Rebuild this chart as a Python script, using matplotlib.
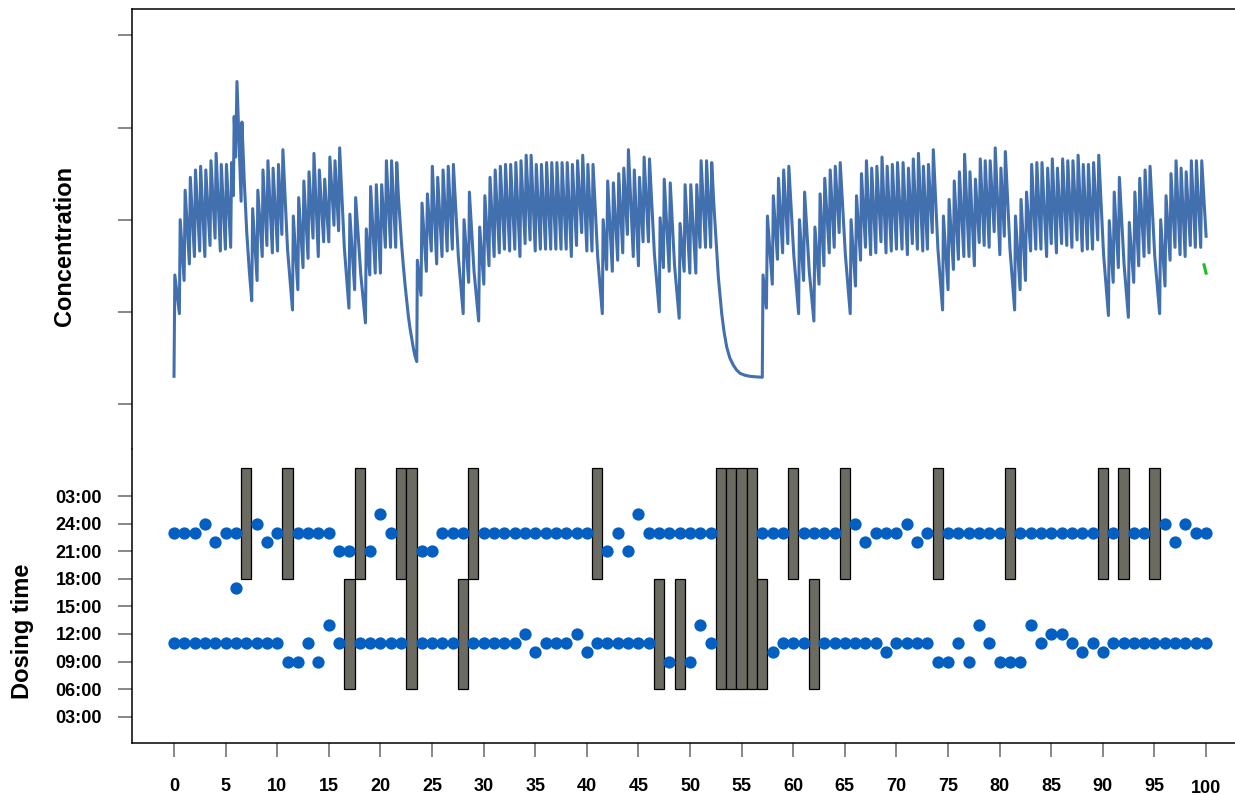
import numpy as np
import matplotlib.pyplot as plt
import matplotlib.transforms as mtransforms

plt.rcParams['font.family'] = ['Liberation Sans', 'DejaVu Sans']
plt.rcParams['font.weight'] = 'bold'

# dosing record: clock hour of the morning / evening dose per day (None = missed)
days = list(range(101))
morning_hour = [
    11, 11, 11, 11, 11, 11, 11, 11, 11, 11,
    11, 9, 9, 11, 9, 13, 11, None, 11, 11,
    11, 11, 11, None, 11, 11, 11, 11, None, 11,
    11, 11, 11, 11, 12, 10, 11, 11, 11, 12,
    10, 11, 11, 11, 11, 11, 11, None, 9, None,
    9, 13, 11, None, None, None, None, None, 10, 11,
    11, 11, None, 11, 11, 11, 11, 11, 11, 10,
    11, 11, 11, 11, 9, 9, 11, 9, 13, 11,
    9, 9, 9, 13, 11, 12, 12, 11, 10, 11,
    10, 11, 11, 11, 11, 11, 11, 11, 11, 11,
    11,
]
evening_hour = [
    23, 23, 23, 24, 22, 23, 23, None, 24, 22,
    23, None, 23, 23, 23, 23, 21, 21, None, 21,
    25, 23, None, None, 21, 21, 23, 23, 23, None,
    23, 23, 23, 23, 23, 23, 23, 23, 23, 23,
    23, None, 21, 23, 21, 25, 23, 23, 23, 23,
    23, 23, 23, None, None, None, None, 23, 23, 23,
    None, 23, 23, 23, 23, None, 24, 22, 23, 23,
    23, 24, 22, 23, None, 23, 23, 23, 23, 23,
    23, None, 23, 23, 23, 23, 23, 23, 23, 23,
    None, 23, None, 23, 23, None, 24, 22, 24, 23,
    23,
]
extra_day = [6]
extra_hour = [17]

# dosing windows used to flag missed doses
morning_window = (6, 18)
evening_window = (18, 30)

# simulated concentration (time in days, level)
conc_days_0_34 = [
    (0.0, 1.5), (0.08, 7.0), (0.52, 4.9), (0.6, 10.0), (0.98, 6.7), (1.08, 11.6),
    (1.49, 7.6), (1.58, 12.3), (1.98, 8.0), (2.08, 12.7), (2.49, 8.3), (2.58, 12.9),
    (2.99, 8.0), (3.08, 12.7), (3.49, 8.6), (3.58, 13.2), (3.98, 9.0), (4.08, 13.6),
    (4.49, 8.3), (4.58, 13.0), (4.98, 8.4), (5.08, 13.0), (5.49, 8.5), (5.58, 13.1),
    (5.75, 11.3), (5.83, 15.6), (5.97, 13.4), (6.1, 17.5), (6.5, 11.0), (6.58, 15.3),
    (6.8, 12.2), (7.05, 9.3), (7.3, 7.2), (7.53, 5.6), (7.62, 10.6), (8.05, 6.7),
    (8.12, 11.6), (8.55, 8.0),
    (8.62, 12.7), (9.0, 8.6), (9.1, 13.2), (9.53, 8.2), (9.6, 12.8), (10.03, 8.3),
    (10.12, 13.0), (10.45, 9.2), (10.55, 13.8), (11.0, 8.4), (11.48, 5.1), (11.56, 10.2),
    (12.0, 6.2), (12.08, 11.2), (12.5, 7.4), (12.58, 12.1), (12.99, 7.9), (13.08, 12.6),
    (13.47, 9.0), (13.56, 13.6), (13.98, 8.0), (14.08, 12.7), (14.5, 8.8), (14.6, 12.2),
    (15.0, 8.8), (15.1, 13.4), (15.5, 9.7), (15.6, 13.2), (15.95, 9.4), (16.05, 13.9),
    (16.5, 8.5), (16.95, 5.2), (17.04, 10.3), (17.5, 6.2), (17.6, 11.2), (18.1, 7.0),
    (18.55, 4.4), (18.63, 9.5), (18.97, 7.0), (19.05, 11.8), (19.5, 7.1), (19.6, 11.9),
    (20.0, 7.1), (20.12, 11.9), (20.48, 8.5), (20.58, 13.2), (20.98, 8.5), (21.08, 13.2),
    (21.48, 8.5), (21.58, 13.1), (21.75, 11.2), (21.9, 9.9), (22.06, 8.6), (22.22, 7.5),
    (22.4, 6.4), (22.55, 5.6), (22.7, 4.8), (22.87, 4.1), (23.05, 3.5), (23.2, 3.0),
    (23.35, 2.6), (23.52, 2.3), (23.58, 7.8), (23.93, 5.9), (24.03, 10.9), (24.45, 7.2),
    (24.55, 11.4), (24.93, 8.3), (25.03, 12.9), (25.45, 7.6), (25.55, 12.3), (25.97, 8.0),
    (26.07, 12.7), (26.47, 8.3), (26.57, 12.9), (26.97, 8.4), (27.07, 13.0), (27.55, 8.0),
    (28.02, 4.9), (28.1, 10.0), (28.55, 6.6), (28.62, 11.5), (29.07, 7.2), (29.52, 4.5),
    (29.62, 9.6), (30.02, 6.5), (30.12, 11.3), (30.52, 7.5), (30.62, 12.3), (31.02, 8.0),
    (31.12, 12.7), (31.52, 8.2), (31.62, 12.9), (32.02, 8.4), (32.12, 13.0), (32.52, 8.3),
    (32.62, 13.0), (33.02, 8.4), (33.12, 13.1), (33.52, 8.0), (33.62, 13.2), (34.02, 8.7),
    (34.12, 13.5),
]
conc_days_34_70 = [
    (34.5, 8.9), (34.6, 13.5), (35.0, 8.3), (35.1, 13.0), (35.5, 8.4), (35.6, 13.0),
    (36.0, 8.4), (36.1, 13.1), (36.5, 8.4), (36.6, 13.1), (37.0, 8.4), (37.1, 13.1),
    (37.5, 8.4), (37.6, 13.1), (38.0, 8.4), (38.1, 13.1), (38.5, 8.0), (38.6, 13.0),
    (39.0, 8.6), (39.1, 13.2), (39.5, 9.3), (39.6, 13.5), (40.0, 8.3), (40.1, 13.0),
    (40.5, 8.3), (40.6, 13.0), (41.05, 8.0), (41.5, 4.9), (41.58, 10.0), (41.92, 7.3),
    (42.02, 12.1), (42.47, 7.2), (42.57, 12.0), (42.99, 7.8), (43.09, 12.5), (43.48, 8.2),
    (43.58, 12.8), (43.93, 9.2), (44.03, 13.8), (44.5, 8.0), (44.6, 12.7), (45.0, 7.5),
    (45.1, 12.3), (45.45, 8.8), (45.55, 13.4), (45.97, 8.8), (46.07, 13.3), (46.55, 8.1),
    (47.02, 5.0), (47.1, 10.1), (47.42, 7.4), (47.5, 12.2), (47.98, 7.2), (48.08, 12.0),
    (48.5, 7.5), (48.95, 4.65), (49.03, 9.8), (49.43, 7.2), (49.52, 11.9), (49.98, 7.1),
    (50.07, 11.9), (50.56, 7.1), (50.65, 11.9), (50.97, 8.5), (51.07, 13.2), (51.5, 8.5),
    (51.6, 13.2), (52.0, 8.5), (52.1, 13.1), (52.3, 10.9), (52.5, 9.1), (52.74, 6.9),
    (52.9, 5.9), (53.07, 4.9), (53.3, 3.9), (53.55, 3.1), (53.85, 2.5), (54.2, 2.1),
    (54.5, 1.85), (54.85, 1.66), (55.3, 1.56), (55.8, 1.5), (56.4, 1.47), (57.0, 1.45),
    (57.07, 7.0), (57.4, 5.2),
    (57.5, 10.2), (57.97, 6.5), (58.07, 11.3), (58.47, 7.85), (58.57, 12.25), (58.97, 8.2),
    (59.07, 12.7), (59.47, 8.7), (59.57, 12.9), (60.05, 8.1), (60.52, 4.9), (60.6, 10.0),
    (61.0, 6.7), (61.1, 11.5), (61.55, 7.2), (62.0, 4.5), (62.1, 9.6), (62.5, 6.5),
    (62.6, 11.4), (62.97, 7.5), (63.05, 12.25), (63.49, 8.2), (63.58, 12.7), (63.97, 8.5),
    (64.07, 12.9), (64.45, 9.3), (64.55, 13.1), (65.05, 8.1), (65.52, 4.9), (65.6, 10.0),
    (66.03, 6.4), (66.13, 11.3), (66.52, 7.8), (66.61, 12.5), (67.0, 8.5), (67.09, 13.2),
    (67.5, 8.1), (67.6, 12.8), (68.0, 8.2), (68.1, 12.9), (68.5, 8.8), (68.6, 13.4),
    (68.99, 8.2), (69.1, 12.9), (69.5, 8.3), (69.6, 13.0), (70.0, 8.4), (70.1, 13.1),
]
conc_days_70_100 = [
    (70.54, 8.4), (70.64, 13.1), (71.06, 8.1), (71.16, 12.8), (71.54, 8.7), (71.63, 13.3),
    (72.03, 8.4), (72.13, 13.6), (72.55, 8.3), (72.61, 12.9), (73.0, 8.4), (73.1, 13.0),
    (73.47, 9.3), (73.57, 13.8), (74.02, 8.4), (74.47, 5.1), (74.55, 10.2), (75.0, 6.2),
    (75.1, 11.1), (75.52, 7.3), (75.6, 12.1), (76.0, 7.85), (76.1, 12.6), (76.53, 8.0),
    (76.6, 13.55), (77.03, 8.0), (77.12, 12.6), (77.55, 7.5), (77.65, 12.2), (78.02, 8.76),
    (78.12, 13.3), (78.5, 8.6), (78.6, 13.2), (78.98, 8.5), (79.08, 13.2), (79.47, 9.35),
    (79.57, 13.9), (80.02, 8.1), (80.12, 12.8), (80.45, 9.1), (80.55, 13.7), (81.0, 8.4),
    (81.45, 5.1), (81.53, 10.2), (81.98, 6.2), (82.07, 11.1), (82.5, 6.7), (82.6, 11.5),
    (83.0, 8.3), (83.1, 13.0), (83.5, 8.4), (83.6, 13.1), (84.0, 8.4), (84.1, 13.1),
    (84.55, 8.0), (84.65, 12.8), (85.0, 8.7), (85.1, 13.3), (85.5, 8.2), (85.6, 12.8),
    (86.0, 8.7), (86.1, 13.3), (86.5, 8.6), (86.6, 13.2), (87.0, 8.5), (87.1, 13.2),
    (87.5, 8.9), (87.6, 13.5), (88.0, 8.3), (88.1, 13.0), (88.5, 8.4), (88.6, 13.0),
    (89.0, 8.4), (89.1, 13.1), (89.5, 8.9), (89.6, 13.5), (90.07, 8.1), (90.54, 4.8),
    (90.62, 9.95), (91.0, 6.6), (91.1, 11.5), (91.5, 7.4), (91.6, 12.3), (92.05, 7.6),
    (92.47, 4.7), (92.56, 9.85), (92.99, 6.6), (93.1, 11.5), (93.47, 7.5), (93.57, 12.25),
    (93.99, 8.0), (94.09, 12.7), (94.47, 8.2), (94.57, 12.9), (95.03, 8.0), (95.5, 4.9),
    (95.6, 10.0), (96.02, 6.4), (96.12, 11.3), (96.51, 7.8), (96.6, 12.5), (96.99, 8.5),
    (97.09, 13.2), (97.48, 8.1), (97.58, 12.8), (97.97, 8.0), (98.07, 12.6), (98.47, 8.6),
    (98.57, 13.2), (98.96, 8.5), (99.06, 13.2), (99.48, 8.5), (99.58, 13.2), (100.0, 9.1),
]
conc_forecast = [(99.8, 7.55), (100.0, 7.1)]

conc = np.array(conc_days_0_34 + conc_days_34_70 + conc_days_70_100)
forecast = np.array(conc_forecast)

fig = plt.figure(figsize=(12.35, 7.95), dpi=100)
ax_c = fig.add_axes([0.10688, 0.4351, 0.8972, 0.5537])
ax_d = fig.add_axes([0.10688, 0.0650, 0.8972, 0.3701])

# --- concentration panel ---
ax_c.plot(conc[:, 0], conc[:, 1], color='#4270AE', lw=2.2)
ax_c.plot(forecast[:, 0], forecast[:, 1], color='#1DBE1D', lw=2.2)
ax_c.set_xlim(-4.07, 103.29)
ax_c.set_ylim(-2.45, 21.44)
ax_c.set_yticks([0, 5, 10, 15, 20])
ax_c.tick_params(axis='y', labelleft=False, length=10, width=1.1, color='#666666')
ax_c.tick_params(axis='x', bottom=False, labelbottom=False)
for s in ['right', 'bottom']:
    ax_c.spines[s].set_visible(False)
for s in ['left', 'top']:
    ax_c.spines[s].set_linewidth(1.1)

# --- dosing panel ---
dot_x, dot_y = [], []
miss_x, miss_lo, miss_hi = [], [], []
for d, m, e in zip(days, morning_hour, evening_hour):
    if m is not None:
        dot_x.append(d)
        dot_y.append(m)
    if e is not None:
        dot_x.append(d)
        dot_y.append(e)
    if m is None and e is None:
        miss_x.append(d)
        miss_lo.append(morning_window[0])
        miss_hi.append(evening_window[1])
    elif m is None:
        miss_x.append(d)
        miss_lo.append(morning_window[0])
        miss_hi.append(morning_window[1])
    elif e is None:
        miss_x.append(d)
        miss_lo.append(evening_window[0])
        miss_hi.append(evening_window[1])
dot_x += extra_day
dot_y += extra_hour

miss_lo = np.array(miss_lo)
miss_hi = np.array(miss_hi)
ax_d.bar(miss_x, miss_hi - miss_lo, bottom=miss_lo, width=1.0,
         color='#6B6B62', edgecolor='black', linewidth=0.9, zorder=2)
ax_d.scatter(dot_x, dot_y, s=78, color='#045FC2', linewidths=0, zorder=3)

ax_d.set_xlim(-4.07, 103.29)
ax_d.set_ylim(0.107, 32.107)
ax_d.set_xticks(range(0, 101, 5))
ax_d.set_yticks(range(3, 28, 3))
ax_d.set_yticklabels(['03:00', '06:00', '09:00', '12:00', '15:00',
                      '18:00', '21:00', '24:00', '03:00'])
ax_d.tick_params(axis='y', length=10, width=1.1, color='#666666',
                 labelsize=13, pad=11.5)
ax_d.tick_params(axis='x', length=10, width=1.1, color='#666666',
                 labelsize=13, pad=15)
for s in ['right', 'top']:
    ax_d.spines[s].set_visible(False)
for s in ['left', 'bottom']:
    ax_d.spines[s].set_linewidth(1.1)

# last day label sits a little lower
last = ax_d.get_xticklabels()[-1]
last.set_transform(last.get_transform() +
                   mtransforms.ScaledTranslation(0, -2.4 / 100, fig.dpi_scale_trans))

fig.text(0.0526, 0.6906, 'Concentration', rotation=90, ha='center', va='center',
         fontsize=17, fontweight='bold')
fig.text(0.0186, 0.2063, 'Dosing time', rotation=90, ha='center', va='center',
         fontsize=17, fontweight='bold')

fig.savefig('out.png', dpi=100)
